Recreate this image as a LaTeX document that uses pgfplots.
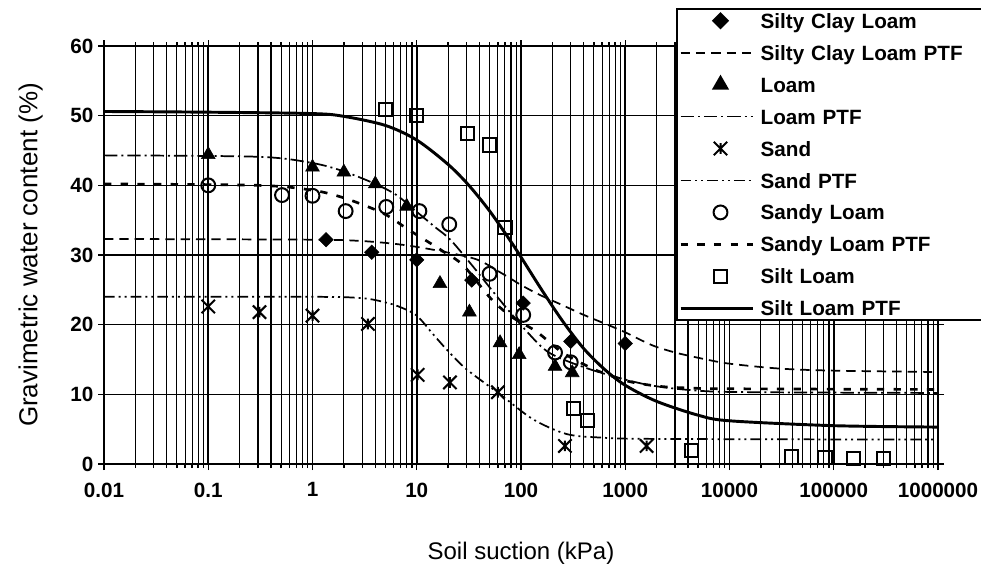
\documentclass[border=0pt]{standalone}
\usepackage{fontspec}
\setmainfont{Liberation Sans}
\usepackage{pgfplots}
\pgfplotsset{compat=1.18}
\usetikzlibrary{plotmarks}

\pgfdeclareplotmark{xstar}{%
  \pgfpathmoveto{\pgfqpoint{-\pgfplotmarksize}{-\pgfplotmarksize}}%
  \pgfpathlineto{\pgfqpoint{\pgfplotmarksize}{\pgfplotmarksize}}%
  \pgfpathmoveto{\pgfqpoint{-\pgfplotmarksize}{\pgfplotmarksize}}%
  \pgfpathlineto{\pgfqpoint{\pgfplotmarksize}{-\pgfplotmarksize}}%
  \pgfpathmoveto{\pgfqpoint{0pt}{-0.8\pgfplotmarksize}}%
  \pgfpathlineto{\pgfqpoint{0pt}{0.8\pgfplotmarksize}}%
  \pgfusepathqstroke}

\pgfplotsset{
  lineleg/.style={legend image code/.code={\draw[##1] (0pt,0pt) -- (54pt,0pt);}},
  markleg/.style={legend image code/.code={\draw[##1] plot coordinates {(30pt,0pt)};}},
}

\begin{document}
\begin{tikzpicture}
\useasboundingbox (0,0) rectangle (735.75pt,431.25pt);
\begin{axis}[
  at={(78pt,83.25pt)}, anchor=south west,
  scale only axis, width=625.5pt, height=313.5pt,
  xmode=log, xmin=0.01, xmax=1000000, ymin=0, ymax=60,
  xtick={0.01,0.1,1,10,100,1000,10000,100000,1000000},
  xticklabels={0.01,0.1,1,10,100,1000,10000,100000,1000000},
  ytick={0,10,20,30,40,50,60},
  xmajorgrids, xminorgrids, ymajorgrids,
  major grid style={black, line width=1.2pt},
  minor grid style={black, line width=0.9pt},
  axis line style={black, line width=1.2pt},
  tick align=outside, major tick length=4.5pt, minor tick length=3pt,
  tick style={black, line width=1pt},
  ticklabel style={font=\bfseries\fontsize{15.5}{18}\selectfont},
  xticklabel style={yshift=-6pt},
  /pgf/number format/assume math mode=true,
  xlabel={Soil suction (kPa)},
  ylabel={Gravimetric water content (\%)},
  xlabel style={font=\fontsize{18}{21}\selectfont, at={(axis description cs:0.5,-0.2129)}, anchor=center},
  ylabel style={font=\fontsize{19.5}{22}\selectfont, at={(axis description cs:-0.0879,0.5)}, anchor=center},
  legend style={at={(axis description cs:0.6859,1.0909)}, anchor=north west,
    draw=black, line width=1.5pt, fill=white, inner xsep=1.5pt, inner ysep=2pt,
    font=\bfseries\fontsize{15.5}{18}\selectfont, row sep=10.25pt, column sep=5pt,
    nodes={inner sep=0pt, text height=12.5pt, text depth=1.2pt, text width=166pt, align=left}},
  legend cell align=left,
]
% Silty Clay Loam
\addplot[markleg, only marks, mark=diamond*, mark size=5.4pt, draw=black, fill=black, mark options={xscale=1.33}]
  coordinates {(1.35,32.2) (3.7,30.4) (10,29.3) (33.7,26.4) (105,23.1) (300,17.6) (1000,17.3)};
\addlegendentry{Silty Clay Loam}
\addplot[lineleg, black, line width=1.3pt, dash pattern=on 7pt off 4.5pt, smooth]
  coordinates {(0.01,32.3) (1,32.2) (3,32.0) (7,31.5) (15,30.7) (37,29.4) (65,27.4) (100,25.7) (150,24.3) (250,22.8) (400,21.4) (700,19.9) (1000,18.9) (1500,17.6) (2000,16.8) (3200,15.9) (6000,15.0) (10000,14.4) (30000,13.7) (100000,13.4) (1000000,13.2)};
\addlegendentry{Silty Clay Loam PTF}
% Loam
\addplot[markleg, only marks, mark=triangle*, mark size=6pt, draw=black, fill=black]
  coordinates {(0.1,44.4) (1,42.6) (2,41.9) (4,40.2) (8,37.0) (16.7,25.9) (32,21.8) (63,17.4) (96,15.7) (212,14.0) (310,13.1)};
\addlegendentry{Loam}
\addplot[lineleg, black, line width=1.3pt, dash pattern=on 10pt off 3pt on 1.5pt off 3pt, smooth]
  coordinates {(0.01,44.3) (0.3,44.1) (1,43.2) (2,42.0) (4,40.2) (6.4,38.6) (10,36.2) (15,34.0) (21,32.2) (34,28.5) (63,23.5) (114,19.0) (190,15.9) (480,13.5) (1600,11.4) (5200,10.5) (20000,10.3) (1000000,10.2)};
\addlegendentry{Loam PTF}
% Sand
\addplot[markleg, only marks, mark=xstar, mark size=5pt, draw=black, line width=1.5pt]
  coordinates {(0.1,22.6) (0.31,21.8) (1,21.3) (3.4,20.1) (10.2,12.8) (20.8,11.7) (60,10.3) (264,2.6) (1600,2.6)};
\addlegendentry{Sand}
\addplot[lineleg, black, line width=1.3pt, dash pattern=on 8pt off 3pt on 1.5pt off 3pt on 1.5pt off 3pt, smooth]
  coordinates {(0.01,24.0) (1,24.0) (3,23.8) (5,23.2) (7,22.5) (10,21.3) (14.4,18.6) (20,16.2) (30,13.6) (63,10.0) (131,6.4) (274,4.3) (573,3.8) (2000,3.6) (1000000,3.5)};
\addlegendentry{Sand PTF}
% Sandy Loam
\addplot[markleg, only marks, mark=o, mark size=5.2pt, draw=black, line width=1.5pt]
  coordinates {(0.1,40.0) (0.51,38.6) (1,38.5) (2.08,36.3) (5.1,36.9) (10.6,36.3) (20.5,34.4) (50,27.3) (105,21.4) (212,16.0) (300,14.6)};
\addlegendentry{Sandy Loam}
\addplot[lineleg, black, line width=2pt, dash pattern=on 5.5pt off 7pt, smooth]
  coordinates {(0.01,40.2) (0.3,40.0) (1,39.3) (2,38.2) (4,36.5) (5.6,35.4) (8,33.8) (11.6,32.3) (18,30.5) (28,28.5) (51,23.8) (80,21.2) (141,19.0) (250,16.0) (500,13.6) (900,12.2) (1300,11.6) (2300,11.1) (4200,10.9) (10000,10.8) (1000000,10.7)};
\addlegendentry{Sandy Loam PTF}
% Silt Loam
\addplot[markleg, only marks, mark=square, mark size=5pt, draw=black, line width=1.5pt]
  coordinates {(5.04,50.9) (10,50.0) (30.5,47.4) (49.7,45.8) (70,33.9) (318,8.0) (432,6.2) (4350,1.9) (39500,1.0) (82400,0.9) (154000,0.8) (299000,0.8)};
\addlegendentry{Silt Loam}
\addplot[lineleg, black, line width=2.2pt, smooth]
  coordinates {(0.01,50.6) (0.1,50.5) (1,50.3) (2,49.9) (5,48.6) (10,46.5) (20,43.0) (31.6,40.0) (50.1,36.3) (79.4,32.0) (100,29.7) (158,25.0) (251,20.5) (398,16.6) (631,13.6) (1000,11.3) (1995,9.0) (5012,7.0) (10000,6.2) (100000,5.5) (1000000,5.3)};
\addlegendentry{Silt Loam PTF}
\end{axis}
\end{tikzpicture}
\end{document}
